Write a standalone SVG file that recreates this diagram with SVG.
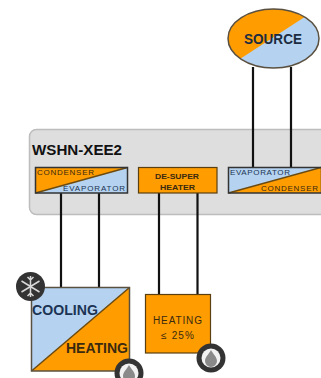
<svg xmlns="http://www.w3.org/2000/svg" width="321" height="378" viewBox="0 0 321 378">
<style>
.o{fill:#ff9c00}.b{fill:#b5d3f0}
.e{fill:none;stroke:#5a5040;stroke-width:1.5}
.d{stroke:#6b4a10;stroke-width:1.5;fill:none}
.c{stroke:#111;stroke-width:2.2;fill:none}
text{font-family:"Liberation Sans",Arial,sans-serif}
.s{font-size:8px}
.dk{fill:#3a2a10}.nv{fill:#1c3454}
.bd{font-weight:bold;font-size:14px}
.ic{fill:#333}.w{stroke:#d8d8d8;stroke-width:1.5;fill:none}
</style>
<defs>
<clipPath id="cp"><ellipse cx="273.5" cy="38.5" rx="45.5" ry="29.5"/></clipPath>
<g id="drop"><circle r="14.5" class="ic"/><circle r="9.5" fill="#f2f2f2"/><path d="M0-8C2-4 6-1 6 3A6 6 0 0 1-6 3C-6-1-2-4 0-8Z" fill="#8a8a8a"/></g>
</defs>
<g id="panel"><rect x="29.500" y="129.500" width="300" height="85" rx="7" fill="#dedede" stroke="#bdbdbd" stroke-width="1.500"/><text x="32" y="155" font-size="14.500" font-weight="bold" fill="#111" textLength="90" lengthAdjust="spacingAndGlyphs">WSHN-XEE2</text></g>
<g id="connectors">
<path class="c" d="M61 193V287M99 193V287M159 193V295M197.500 193V295M253 67V167M291 67V167"/>
</g>
<g id="source">
<g clip-path="url(#cp)"><rect x="228" y="9" width="92" height="60" class="b"/><path d="M226 9H317L226 68Z" class="o"/></g>
<ellipse cx="273.500" cy="38.500" rx="45.500" ry="29.500" class="e"/>
<text x="244" y="44" font-size="14" font-weight="bold" fill="#1c2c40" textLength="58" lengthAdjust="spacingAndGlyphs">SOURCE</text>
</g>
<g id="hp-left">
<rect x="35.500" y="167.500" width="92" height="25.500" class="b"/><path d="M35.500 167.500H127.500L35.500 193Z" class="o"/>
<path d="M35.500 193L127.500 167.500" class="d"/><rect x="35.500" y="167.500" width="92" height="25.500" class="e" style="stroke:#333"/>
<text x="37" y="175" class="s dk" textLength="57">CONDENSER</text>
<text x="63" y="191" class="s nv" textLength="62">EVAPORATOR</text>
</g>
<g id="desuper">
<rect x="138.500" y="167.500" width="78.500" height="25.500" class="o" stroke="#5a4010" stroke-width="1.200"/>
<text x="155" y="179" class="s dk" font-weight="bold" textLength="44" lengthAdjust="spacingAndGlyphs">DE-SUPER</text>
<text x="160" y="190" class="s dk" font-weight="bold" textLength="35" lengthAdjust="spacingAndGlyphs">HEATER</text>
</g>
<g id="hp-right">
<rect x="228.500" y="167.500" width="92.500" height="25.500" class="b"/><path d="M321 167.500V193H228.500Z" class="o"/>
<path d="M228.500 193L321 167.500" class="d"/><rect x="228.500" y="167.500" width="93" height="25.500" class="e" style="stroke:#333"/>
<text x="230" y="175" class="s nv" textLength="60">EVAPORATOR</text>
<text x="261" y="191" class="s dk" textLength="57">CONDENSER</text>
</g>
<g id="cooling-heating">
<rect x="31.500" y="287.500" width="98" height="83.500" class="b"/><path d="M129.500 287.500V371H31.500Z" class="o"/>
<path d="M31.500 371L129.500 287.500" class="d"/><rect x="31.500" y="287.500" width="98" height="83.500" class="e"/>
<text x="32" y="315" class="bd nv" textLength="66" lengthAdjust="spacingAndGlyphs">COOLING</text>
<text x="66" y="353" class="bd dk" textLength="62" lengthAdjust="spacingAndGlyphs">HEATING</text>
</g>
<g id="heating-25">
<rect x="145.500" y="294.500" width="65" height="58.500" class="o" stroke="#5a4010" stroke-width="1.200"/>
<text x="153" y="324" font-size="10" class="dk" textLength="49">HEATING</text>
<text x="161" y="339" font-size="10" class="dk" textLength="33">≤ 25%</text>
</g>
<g id="snow-icon"><circle cx="30.500" cy="286.500" r="14.500" class="ic"/>
<path class="w" d="M30.500 276V297M21.500 281L39.500 292M39.500 281L21.500 292M27.500 277L30.500 280L33.500 277M27.500 296L30.500 293L33.500 296"/></g>
<use id="drop-left" href="#drop" x="129" y="373"/>
<use id="drop-right" href="#drop" x="211" y="358"/>
</svg>
